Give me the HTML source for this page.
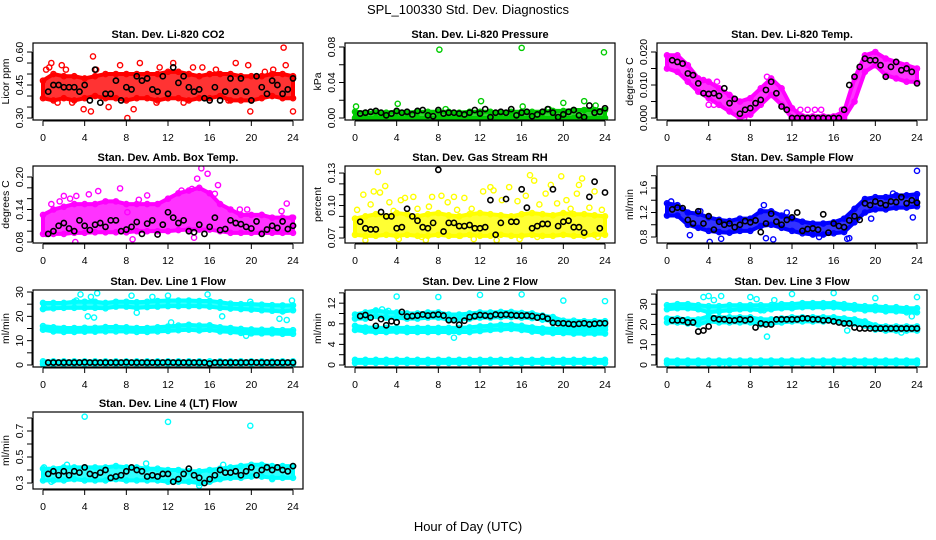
<!DOCTYPE html>
<html><head><meta charset="utf-8">
<style>
html,body{margin:0;padding:0;background:#fff;}
svg{display:block;font-family:"Liberation Sans",sans-serif;}
</style></head>
<body>
<svg id="chart" width="936" height="540" viewBox="0 0 936 540" xmlns="http://www.w3.org/2000/svg">
<rect x="0" y="0" width="936" height="540" fill="#fff"/>
<text x="468" y="14" font-size="13" text-anchor="middle">SPL_100330  Std. Dev. Diagnostics</text>
<text x="468" y="531" font-size="13" text-anchor="middle">Hour of Day (UTC)</text>
</svg>
<script>
const hours = [0,1,2,3,4,5,6,7,8,9,10,11,12,13,14,15,16,17,18,19,20,21,22,23,24];
const blackHours = [0.5,1,1.5,2,2.5,3,3.5,4,4.5,5,5.5,6,6.5,7,7.5,8,8.5,9,9.5,10,10.5,11,11.5,12,12.5,13,13.5,14,14.5,15,15.5,16,16.5,17,17.5,18,18.5,19,19.5,20,20.5,21,21.5,22,22.5,23,23.5,24];
const xTicks = [0,4,8,12,16,20,24];

// CO2
const co2Lo = [0.39,0.38,0.39,0.38,0.39,0.40,0.39,0.39,0.38,0.39,0.39,0.38,0.39,0.39,0.38,0.39,0.39,0.40,0.38,0.38,0.38,0.39,0.40,0.39,0.39];
const co2Hi = [0.47,0.50,0.49,0.49,0.48,0.49,0.50,0.50,0.50,0.50,0.50,0.50,0.51,0.51,0.50,0.49,0.50,0.50,0.50,0.49,0.49,0.49,0.50,0.50,0.49];
const co2Out = [[0.3,0.52],[0.6,0.53],[0.8,0.55],[1.8,0.54],[2.2,0.52],[3.9,0.34],[4.8,0.58],[4.6,0.33],[5.1,0.52],[6.3,0.35],[7.4,0.54],[8.1,0.30],[8.7,0.34],[9.3,0.55],[11.2,0.53],[12.5,0.55],[14.4,0.53],[15.3,0.53],[16.6,0.52],[18.5,0.55],[19.7,0.54],[19.9,0.33],[21.3,0.51],[22.1,0.52],[23.1,0.62],[23.3,0.54],[24,0.33],[10.9,0.37],[13.5,0.37],[17.8,0.38],[2.8,0.37],[1.4,0.37]];
const co2Black = [0.42,0.45,0.45,0.44,0.44,0.44,0.42,0.45,0.38,0.52,0.37,0.41,0.41,0.47,0.38,0.44,0.43,0.49,0.47,0.48,0.43,0.42,0.49,0.41,0.53,0.46,0.49,0.44,0.42,0.43,0.39,0.38,0.44,0.38,0.42,0.48,0.42,0.48,0.42,0.38,0.49,0.44,0.41,0.47,0.45,0.41,0.43,0.48];
const co2Ticks = [0.30,0.35,0.40,0.45,0.50,0.55,0.60];
const co2Labels = ["0.30","0.45","0.60"];

// Pressure
const presLo = [0,0,0,0,0,0,0,0,0,0,0,0,0,0,0,0,0,0,0,0,0,0,0,0,0];
const presHi = [0.007,0.006,0.006,0.006,0.007,0.006,0.007,0.007,0.007,0.007,0.006,0.007,0.007,0.007,0.006,0.007,0.007,0.007,0.007,0.008,0.008,0.009,0.009,0.009,0.009];
const presOut = [[0.1,0.013],[4.1,0.016],[8.1,0.077],[12.1,0.019],[16.0,0.079],[16.1,0.013],[20.0,0.017],[22.0,0.019],[23.9,0.074],[23.1,0.014],[8.7,0.010],[18.6,0.010]];
const presBlack = [0.005,0.006,0.007,0.008,0.006,0.003,0.005,0.008,0.006,0.007,0.004,0.008,0.009,0.003,0.002,0.009,0.005,0.006,0.006,0.005,0.004,0.006,0.009,0.005,0.010,0.001,0.006,0.007,0.006,0.010,0.003,0.006,0.007,0.002,0.004,0.007,0.010,0.006,0.001,0.004,0.007,0.009,0.003,0.001,0.014,0.006,0.007,0.011];
const presTicks = [0,0.02,0.04,0.06,0.08];
const presLabels = ["0.00","0.04","0.08"];

// Li-820 temp
const tempLo = [0.015,0.014,0.011,0.008,0.006,0.004,0.002,0.000,0.001,0.004,0.007,0.004,0.000,0,0,0,0,0,0.005,0.014,0.016,0.013,0.012,0.011,0.011];
const tempHi = [0.019,0.019,0.016,0.012,0.011,0.009,0.007,0.005,0.006,0.009,0.012,0.009,0.003,0.0005,0.0005,0.0005,0.0005,0.002,0.012,0.019,0.020,0.018,0.017,0.016,0.015];
const tempOut = [[13.5,0.0025],[14.2,0.0025],[14.8,0.0025],[16.8,0.0025],[4,0.004],[4.5,0.004],[9.6,0.0125],[4.8,0.011],[3.5,0.0115],[12.8,0.0025],[7.4,0],[12.5,0]];
const tempBlack = [0.0175,0.017,0.0165,0.0135,0.013,0.0105,0.0075,0.0073,0.0075,0.0067,0.009,0.0045,0.0058,0.0013,0.0025,0.003,0.0045,0.0055,0.0085,0.011,0.0075,0.0035,0.0025,0,0,0,0,0,0,0,0,0,0,0.0025,0.010,0.0125,0.0155,0.018,0.0175,0.0175,0.016,0.0125,0.0155,0.017,0.0145,0.015,0.014,0.0105];
const tempTicks = [0,0.005,0.010,0.015,0.020];
const tempLabels = ["0.000","0.010","0.020"];

// Amb box temp
const ambLo = [0.095,0.095,0.095,0.097,0.097,0.098,0.098,0.098,0.098,0.100,0.100,0.100,0.100,0.102,0.103,0.103,0.103,0.100,0.097,0.097,0.097,0.097,0.097,0.097,0.097];
const ambHi = [0.13,0.14,0.145,0.15,0.15,0.15,0.155,0.155,0.15,0.15,0.15,0.15,0.16,0.17,0.175,0.18,0.17,0.15,0.14,0.13,0.13,0.13,0.125,0.125,0.125];
const ambOut = [[0.3,0.095],[0.8,0.15],[1.6,0.155],[2.6,0.16],[3.1,0.08],[3.2,0.165],[4.4,0.168],[5.3,0.174],[7.4,0.179],[8.1,0.135],[8.6,0.085],[9.2,0.158],[10.0,0.166],[13.3,0.175],[14.3,0.178],[14.8,0.197],[15.2,0.216],[15.8,0.206],[16.5,0.169],[16.8,0.185],[18.9,0.14],[19.6,0.14],[21.0,0.13],[22.9,0.137],[23.4,0.151],[23.9,0.125],[14.5,0.088],[2.0,0.165]];
const ambBlack = [0.095,0.10,0.11,0.115,0.105,0.10,0.12,0.11,0.102,0.112,0.115,0.108,0.12,0.12,0.10,0.103,0.108,0.117,0.095,0.114,0.12,0.094,0.112,0.135,0.125,0.115,0.12,0.10,0.098,0.112,0.095,0.108,0.125,0.102,0.104,0.12,0.115,0.113,0.108,0.105,0.118,0.095,0.103,0.11,0.106,0.118,0.104,0.11];
const ambTicks = [0.08,0.10,0.12,0.14,0.16,0.18,0.20];
const ambLabels = ["0.08","0.14","0.20"];

// Gas stream RH
const rhLo = [0.073,0.072,0.072,0.073,0.072,0.073,0.072,0.072,0.073,0.072,0.072,0.073,0.072,0.072,0.073,0.072,0.072,0.073,0.072,0.072,0.073,0.072,0.072,0.073,0.073];
const rhHi = [0.088,0.090,0.092,0.090,0.093,0.092,0.090,0.092,0.093,0.091,0.090,0.092,0.093,0.092,0.091,0.090,0.092,0.093,0.092,0.091,0.093,0.092,0.092,0.091,0.090];
const rhOut = [[0.2,0.096],[0.8,0.11],[1.0,0.068],[1.5,0.101],[1.8,0.113],[2.2,0.131],[2.4,0.112],[2.9,0.118],[3.3,0.103],[4.2,0.069],[4.4,0.105],[4.8,0.107],[5.6,0.108],[6.4,0.071],[6.8,0.068],[7.1,0.099],[7.4,0.108],[8.3,0.109],[8.9,0.103],[9.5,0.108],[10.1,0.072],[10.5,0.107],[11.2,0.097],[11.4,0.069],[12.3,0.113],[13.0,0.117],[13.3,0.114],[13.6,0.068],[14.1,0.105],[14.8,0.117],[15.6,0.104],[15.8,0.069],[16.4,0.109],[16.8,0.128],[17.2,0.123],[17.7,0.101],[18.3,0.111],[18.8,0.119],[19.4,0.102],[19.8,0.127],[20.3,0.105],[20.7,0.097],[21.3,0.111],[21.5,0.119],[21.8,0.125],[22.5,0.098],[23.0,0.113],[23.3,0.071],[23.7,0.096],[6.0,0.097],[9.8,0.096],[3.7,0.095],[17.5,0.071]];
const rhBlack = [0.085,0.079,0.078,0.078,0.094,0.090,0.090,0.079,0.080,0.097,0.090,0.086,0.080,0.079,0.084,0.133,0.076,0.084,0.084,0.081,0.081,0.082,0.079,0.079,0.080,0.105,0.073,0.084,0.106,0.085,0.085,0.115,0.098,0.079,0.081,0.083,0.083,0.115,0.081,0.085,0.086,0.080,0.080,0.075,0.108,0.122,0.079,0.112];
const rhTicks = [0.07,0.08,0.09,0.10,0.11,0.12,0.13];
const rhLabels = ["0.07","0.10","0.13"];

// Sample flow
const flowLo = [1.15,1.15,1.0,0.95,0.9,0.88,0.87,0.9,0.9,0.98,1.0,0.95,0.9,0.86,0.84,0.84,0.86,0.88,1.04,1.2,1.25,1.25,1.28,1.28,1.3];
const flowHi = [1.35,1.32,1.2,1.18,1.12,1.08,1.06,1.1,1.1,1.22,1.22,1.15,1.1,1.05,1.02,1.02,1.04,1.1,1.26,1.42,1.45,1.45,1.48,1.48,1.5];
const flowOut = [[24,1.88],[4.1,0.72],[5.2,0.77],[17.5,0.78],[17.3,0.77],[9.5,0.78],[10.2,0.76],[0.4,1.38],[2.2,0.83],[3.2,1.22],[9.3,1.32],[11.5,1.2],[21.7,1.51],[23.6,1.12],[19.6,1.1],[14.6,0.8]];
const flowBlack = [1.25,1.28,1.27,1.08,1.02,1.22,1.02,1.14,0.92,1.05,1.0,1.02,0.96,1.0,1.06,1.04,1.07,0.88,1.02,1.18,1.05,1.0,1.08,1.12,1.2,0.9,0.93,0.94,0.92,1.17,0.87,1.02,0.98,0.96,1.07,1.14,1.08,1.35,1.32,1.38,1.35,1.32,1.38,1.37,1.45,1.35,1.4,1.36];
const flowTicks = [0.8,1.0,1.2,1.4,1.6,1.8];
const flowLabels = ["0.8","1.2","1.6"];

// Line 1
const l1aLo = [23,23.3,23.5,23.5,23.5,23.5,23.3,24,24,23.5,23.8,24,24.2,24.2,24.2,24.2,24,23.5,23.2,23,22.8,22.5,22.3,22,22.5];
const l1aHi = [25.5,25.5,25.5,26,26,26,25.5,26,26,25.8,26,26.3,26.5,26.5,26.5,26.3,26.3,25.8,25.2,25,25,24.8,24.6,24.5,24.5];
const l1bLo = [14.5,13.8,13.6,13.6,13.7,13.7,13.8,13.8,13.8,13.6,13.6,13.8,14,14.3,14.5,14.2,14.5,13.8,13.6,13.2,13,13,13,12.8,12.8];
const l1bHi = [16,15.5,15.2,15.2,15.3,15.3,15.6,15.6,15.5,15.2,15.2,15.5,15.8,16.2,16.5,16.2,16.3,15.5,15.2,14.8,14.6,14.5,14.5,14.3,14.3];
const l1cLo = [0.4,0.4,0.4,0.4,0.4,0.4,0.4,0.4,0.4,0.4,0.4,0.4,0.4,0.4,0.4,0.4,0.4,0.4,0.4,0.4,0.4,0.4,0.4,0.4,0.4];
const l1cHi = [1.5,1.5,1.5,1.5,1.5,1.5,1.5,1.5,1.5,1.5,1.5,1.5,1.5,1.5,1.5,1.5,1.5,1.5,1.5,1.5,1.5,1.5,1.5,1.5,1.5];
const l1Out = [[3.6,29],[5.2,29.5],[15.8,29],[8.5,28.5],[10.5,28],[12,28.5],[19.9,26],[23.9,26.5],[4.3,20],[4.9,19.5],[17.2,20],[22.7,19],[23.4,18.5],[9,21.5],[19.5,12],[12.3,17.5],[3.2,26.5],[4.6,28],[0.1,23.5]];
const l1Black = [1.0,1.0,1.0,1.0,1.0,1.0,1.0,1.1,1.0,1.0,1.0,1.0,1.0,1.0,1.0,1.1,1.0,1.0,1.0,1.0,1.0,1.0,1.0,1.1,1.0,1.0,1.0,1.0,1.0,1.0,1.0,0.6,1.0,1.0,1.0,1.0,1.0,1.0,1.0,1.1,1.0,1.0,1.0,1.0,1.0,1.0,1.0,1.0];
const l1Ticks = [0,5,10,15,20,25,30];
const l1Labels = ["0","10","20","30"];

// Line 2
const l2aLo = [9,9,9.5,9.2,9.2,9,9,9.2,9.2,8.8,8.8,9,9.2,9.2,9.3,9.3,9.2,9.1,8.8,8.5,7.6,7.6,7.5,7.5,7.5];
const l2aHi = [9.8,10.2,10.6,10.3,10.2,10,10,10.2,10.2,9.8,9.8,10,10.2,10.2,10.3,10.3,10.1,10,9.6,9.3,8.6,8.6,8.5,8.5,8.5];
const l2bLo = [6.8,6.5,6.4,6.4,6.5,6.4,6.4,6.4,6.4,6.4,6.4,6.4,6.6,6.8,6.9,7,6.8,6.5,6.3,6.2,6.2,6.1,6.1,6.1,6.1];
const l2bHi = [7.6,7.3,7.2,7.2,7.2,7.2,7.2,7.2,7.2,7.2,7.2,7.3,7.5,7.6,7.8,7.8,7.6,7.3,7.1,7,7,6.9,6.9,6.9,6.9];
const l2cLo = [0.4,0.4,0.4,0.4,0.4,0.4,0.4,0.4,0.4,0.4,0.4,0.4,0.4,0.4,0.4,0.4,0.4,0.4,0.4,0.4,0.4,0.4,0.4,0.4,0.4];
const l2cHi = [1.0,1.0,1.0,1.0,1.0,1.0,1.0,1.0,1.0,1.0,1.0,1.0,1.0,1.0,1.0,1.0,1.0,1.0,1.0,1.0,1.0,1.0,1.0,1.0,1.0];
const l2Out = [[4,13.3],[8,13.2],[12,13.6],[16,13.7],[20,12.5],[24,12.4],[9.5,5.3],[2.6,10.8],[3.2,10.5]];
const l2Black = [9.5,9.7,9.2,7.6,8.9,7.7,8.5,8.3,10.3,9.4,9.5,9.6,9.8,9.6,9.7,9.8,9.6,8.7,8.7,7.8,8.6,9.3,9.5,9.7,9.6,9.5,9.8,9.7,9.8,9.7,9.6,9.6,9.6,9.5,9.2,9.4,9.0,8.2,8.1,8.1,8.0,7.9,8.0,8.1,7.9,8.0,8.1,8.1];
const l2Ticks = [0,2,4,6,8,10,12,14];
const l2Labels = ["0","4","8","12"];

// Line 3
const l3aLo = [27.5,28,28,27.5,26,26.5,27,27.5,27.5,27,27.5,28,28,28.5,28.5,28.5,28.5,28,27.5,27,27,26.5,26.5,26,26];
const l3aHi = [29.5,30,30,29.5,29,29,29.5,29.5,29.5,29.5,29.5,30,30,30.5,30.5,30.5,30.5,30,29.5,29,29,28.5,28.5,28,28];
const l3bLo = [21,21,20.5,20,21.5,21,21,21,21,20,20.5,21,21.5,21.5,21.5,21.5,21.5,21,20.5,19.5,17.5,17,17,17,17];
const l3bHi = [23,23,22.5,22.5,24,23.5,23.5,23.5,23.5,22.5,22.5,23,23.5,23.5,23.5,23.5,23.5,23,22.5,21.5,19.5,19,19,19,19];
const l3cLo = [0.8,0.8,0.8,0.8,0.8,0.8,0.8,0.8,0.8,0.8,0.8,0.8,0.8,0.8,0.8,0.8,0.8,0.8,0.8,0.8,0.8,0.8,0.8,0.8,0.8];
const l3cHi = [2.2,2.2,2.2,2.2,2.2,2.2,2.2,2.2,2.2,2.2,2.2,2.2,2.2,2.2,2.2,2.2,2.2,2.2,2.2,2.2,2.2,2.2,2.2,2.2,2.2];
const l3Out = [[3.5,33.5],[4,34],[5.2,34],[8,33.5],[12,35],[16,35.5],[20,33],[24,33.5],[9.6,14],[17.3,17],[10.3,32],[9.3,27],[4.5,32],[22.5,16],[23.5,24],[8.6,32.5],[5.3,0]];
const l3Black = [22,22,22,21,21,16.5,17,19,23,22.5,22.5,22,22,22.5,22,22.5,18.5,20.5,20,20,22.5,22.5,22.5,22.5,22.5,23,23,22.5,22.5,22,22,21.5,21,20.5,20.5,18.5,18,18,18,18,18,18,18,18,18,18,18,18];
const l3Ticks = [0,5,10,15,20,25,30,35];
const l3Labels = ["0","10","20","30"];

// Line 4
const l4Lo = [0.32,0.32,0.32,0.33,0.32,0.32,0.32,0.33,0.32,0.32,0.32,0.32,0.31,0.31,0.31,0.3,0.31,0.33,0.34,0.34,0.35,0.35,0.34,0.34,0.34];
const l4Hi = [0.41,0.41,0.42,0.42,0.42,0.42,0.42,0.43,0.42,0.42,0.41,0.41,0.4,0.4,0.39,0.39,0.4,0.41,0.42,0.43,0.44,0.44,0.43,0.43,0.43];
const l4Out = [[4,0.81],[12,0.77],[19.9,0.74],[0.1,0.42],[2.3,0.44],[9.9,0.45],[0.8,0.31],[15,0.28],[22,0.33],[17.3,0.44]];
const l4Black = [0.37,0.39,0.36,0.39,0.36,0.39,0.38,0.42,0.37,0.36,0.38,0.40,0.34,0.35,0.36,0.39,0.42,0.40,0.39,0.35,0.36,0.35,0.37,0.37,0.31,0.33,0.37,0.41,0.36,0.34,0.30,0.33,0.36,0.40,0.38,0.38,0.39,0.36,0.39,0.42,0.36,0.40,0.42,0.40,0.42,0.40,0.39,0.43];
const l4Ticks = [0.3,0.4,0.5,0.6,0.7,0.8];
const l4Labels = ["0.3","0.5","0.7"];

const panels = [
 {id:'co2',col:0,row:0,title:'Stan. Dev. Li-820 CO2',ylab:'Licor ppm',ymin:0.291,ymax:0.641,color:'#ff0000',bands:[[co2Lo,co2Hi]],out:co2Out,black:co2Black,ticks:co2Ticks,labels:co2Labels},
 {id:'pressure',col:1,row:0,title:'Stan. Dev. Li-820 Pressure',ylab:'kPa',ymin:-0.00225,ymax:0.0845,color:'#00cc00',bands:[[presLo,presHi]],out:presOut,black:presBlack,ticks:presTicks,labels:presLabels},
 {id:'li820-temp',col:2,row:0,title:'Stan. Dev. Li-820 Temp.',ylab:'degrees C',ymin:-0.0006,ymax:0.02273,color:'#ff00ff',bands:[[tempLo,tempHi]],out:tempOut,black:tempBlack,ticks:tempTicks,labels:tempLabels},
 {id:'amb-box-temp',col:0,row:1,title:'Stan. Dev. Amb. Box Temp.',ylab:'degrees C',ymin:0.0782,ymax:0.2203,color:'#ff00ff',bands:[[ambLo,ambHi]],out:ambOut,black:ambBlack,ticks:ambTicks,labels:ambLabels},
 {id:'gas-stream-rh',col:1,row:1,title:'Stan. Dev. Gas Stream RH',ylab:'percent',ymin:0.0654,ymax:0.1365,color:'#ffff00',bands:[[rhLo,rhHi]],out:rhOut,black:rhBlack,ticks:rhTicks,labels:rhLabels},
 {id:'sample-flow',col:2,row:1,title:'Stan. Dev. Sample Flow',ylab:'ml/min',ymin:0.702,ymax:1.959,color:'#0000ff',bands:[[flowLo,flowHi]],out:flowOut,black:flowBlack,ticks:flowTicks,labels:flowLabels},
 {id:'line1-flow',col:0,row:2,title:'Stan. Dev. Line 1 Flow',ylab:'ml/min',ymin:-0.83,ymax:30.83,color:'#00ffff',bands:[[l1aLo,l1aHi],[l1bLo,l1bHi],[l1cLo,l1cHi]],out:l1Out,black:l1Black,ticks:l1Ticks,labels:l1Labels},
 {id:'line2-flow',col:1,row:2,title:'Stan. Dev. Line 2 Flow',ylab:'ml/min',ymin:-0.39,ymax:14.56,color:'#00ffff',bands:[[l2aLo,l2aHi],[l2bLo,l2bHi],[l2cLo,l2cHi]],out:l2Out,black:l2Black,ticks:l2Ticks,labels:l2Labels},
 {id:'line3-flow',col:2,row:2,title:'Stan. Dev. Line 3 Flow',ylab:'ml/min',ymin:-1,ymax:37,color:'#00ffff',bands:[[l3aLo,l3aHi],[l3bLo,l3bHi],[l3cLo,l3cHi]],out:l3Out,black:l3Black,ticks:l3Ticks,labels:l3Labels},
 {id:'line4-flow',col:0,row:3,title:'Stan. Dev. Line 4 (LT) Flow',ylab:'ml/min',ymin:0.254,ymax:0.846,color:'#00ffff',bands:[[l4Lo,l4Hi]],out:l4Out,black:l4Black,ticks:l4Ticks,labels:l4Labels}
];

const COLS=[33,345,657], ROWS=[43,166,290,412], W=270, H=77;
const NS='http://www.w3.org/2000/svg';
const svg=document.getElementById('chart');
function mk(tag,attrs,parent){const e=document.createElementNS(NS,tag);for(const k in attrs)e.setAttribute(k,attrs[k]);parent.appendChild(e);return e;}

panels.forEach(p=>{
  const L=COLS[p.col], T=ROWS[p.row];
  const g=mk('g',{},svg);
  
  
  const xs=h=>L+10+h*250/24;
  const ys=v=>T+H-(v-p.ymin)/(p.ymax-p.ymin)*H;
  const clip=mk('clipPath',{id:'clip-'+p.id},g);
  mk('rect',{x:L,y:T,width:W,height:H},clip);
  const plot=mk('g',{'clip-path':'url(#clip-'+p.id+')'},g);
  
  
  p.bands.forEach((b,bi)=>{
    const lo=b[0], hi=b[1];
    let pts=[];
    hours.forEach((h,i)=>pts.push(xs(h)+','+ys(hi[i])));
    for(let i=hours.length-1;i>=0;i--) pts.push(xs(hours[i])+','+ys(lo[i]));
    const poly=mk('polygon',{points:pts.join(' '),fill:p.color,'fill-opacity':0.8,stroke:p.color,'stroke-width':4,'stroke-linejoin':'round'},plot);
    
    
    hours.forEach((h,i)=>{
      [lo[i],hi[i]].forEach(v=>{
        const c=mk('circle',{cx:xs(h),cy:ys(v),r:2.6,fill:'none',stroke:p.color,'stroke-width':1.4},plot);
        
        
      });
    });
  });
  p.out.forEach(o=>{
    const c=mk('circle',{cx:xs(o[0]),cy:ys(o[1]),r:2.6,fill:'none',stroke:p.color,'stroke-width':1.4},plot);
    
    
  });
  p.black.forEach((v,i)=>{
    const c=mk('circle',{cx:xs(blackHours[i]),cy:ys(v),r:2.6,fill:'none',stroke:'#000','stroke-width':1.6},plot);
    
    
  });
  const box=mk('rect',{x:L,y:T,width:W,height:H,fill:'none',stroke:'#000','stroke-width':1.2},g);
  
  
  mk('line',{x1:xs(0),x2:xs(24),y1:T+H+1,y2:T+H+1,stroke:'#000','stroke-width':1},g);
  xTicks.forEach(t=>{
    mk('line',{x1:xs(t),x2:xs(t),y1:T+H+1,y2:T+H+6,stroke:'#000','stroke-width':1},g);
    const tx=mk('text',{x:xs(t),y:T+H+21,'font-size':10.5,'text-anchor':'middle'},g);
    tx.textContent=t;
    
    
  });
  const yt=p.ticks;
  mk('line',{x1:L-1,x2:L-1,y1:ys(yt[0]),y2:ys(yt[yt.length-1]),stroke:'#000','stroke-width':1},g);
  yt.forEach(t=>mk('line',{x1:L-6,x2:L-1,y1:ys(t),y2:ys(t),stroke:'#000','stroke-width':1},g));
  p.labels.forEach(s=>{
    const v=parseFloat(s);
    const tx=mk('text',{x:0,y:0,'font-size':10.5,'text-anchor':'middle',transform:'translate('+(L-10)+','+ys(v)+') rotate(-90)'},g);
    tx.textContent=s;
    
    
  });
  const yl=mk('text',{x:0,y:0,'font-size':10.5,'text-anchor':'middle',transform:'translate('+(L-24)+','+(T+H/2)+') rotate(-90)'},g);
  yl.textContent=p.ylab;
  
  
  const ti=mk('text',{x:L+W/2,y:T-5,'font-size':11,'font-weight':'bold','text-anchor':'middle'},g);
  ti.textContent=p.title;
  
  
});
</script>
</body></html>
